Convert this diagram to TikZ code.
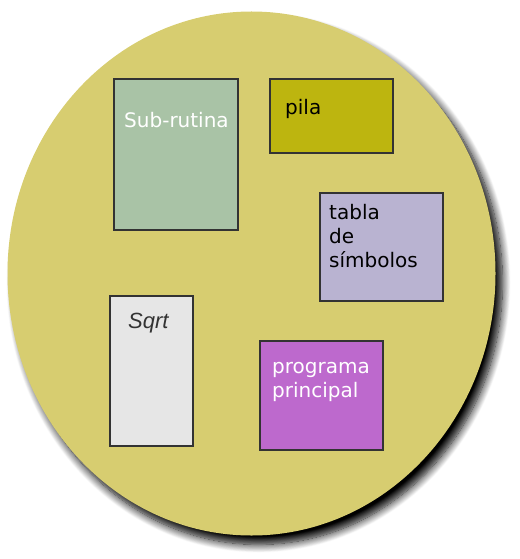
\documentclass[tikz,border=0pt]{standalone}
\usepackage{fontspec}
\setmainfont{DejaVu Sans}
\newfontfamily\sqrtfont{Liberation Sans}
\usetikzlibrary{positioning,shadows.blur}

\definecolor{fondo}{HTML}{D7CD70}
\definecolor{verdegris}{HTML}{A9C3A6}
\definecolor{oliva}{HTML}{BDB50F}
\definecolor{lila}{HTML}{B9B3D1}
\definecolor{grisclaro}{HTML}{E6E6E6}
\definecolor{morado}{HTML}{BD69CD}
\definecolor{borde}{HTML}{333333}

\begin{document}
\begin{tikzpicture}[x=1pt,y=-1pt,
   caja/.style={draw=borde,line width=1.6pt,inner sep=0pt,anchor=north west,outer sep=0pt},
   texto/.style={inner sep=0pt,anchor=base west,align=left,
      font=\fontsize{20}{23.7}\selectfont}]

   \useasboundingbox (0,0) rectangle (519,559);

   % memoria
   \fill[fondo,blur shadow={shadow xshift=7pt,shadow yshift=-9pt,shadow opacity=100,shadow blur radius=8pt,shadow blur steps=12}]
      (251.5,273.5) ellipse [x radius=244,y radius=262];

   \node[caja,fill=verdegris,minimum width=124pt,minimum height=151pt] at (114,79) (subrutina) {};
   \node[caja,fill=oliva,minimum width=123pt,minimum height=74pt] at (270,79) (pila) {};
   \node[caja,fill=lila,minimum width=123pt,minimum height=108pt] at (320,193) (tabla) {};
   \node[caja,fill=grisclaro,minimum width=83pt,minimum height=150pt] at (110,296) (sqrt) {};
   \node[caja,fill=morado,minimum width=123pt,minimum height=109pt] at (260,341) (principal) {};

   \node[texto,text=white] at ([shift={(10,49)}]subrutina.north west) (subrutinatxt) {Sub-rutina};
   \node[texto] at ([shift={(15,36)}]pila.north west) (pilatxt) {pila};
   \node[texto] at ([shift={(9,74)}]tabla.north west) (tablatxt) {tabla\\de\\símbolos};
   \node[texto,text=borde,font=\sqrtfont\itshape\fontsize{22}{25}\selectfont] at ([shift={(18,32)}]sqrt.north west) (sqrttxt) {Sqrt};
   \node[texto,text=white] at ([shift={(12,56)}]principal.north west) (principaltxt) {programa\\principal};
\end{tikzpicture}
\end{document}
